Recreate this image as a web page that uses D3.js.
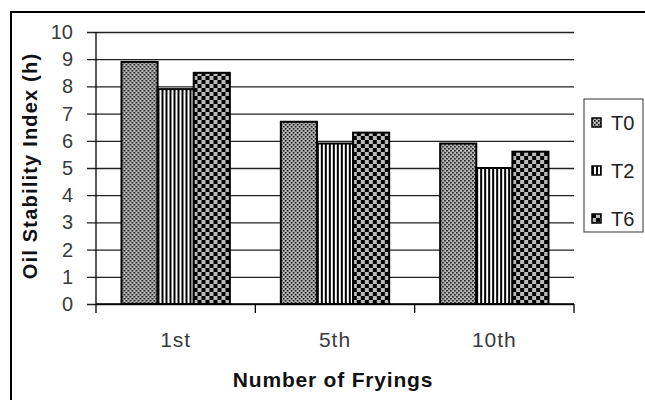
<!DOCTYPE html>
<html>
<head>
<meta charset="utf-8">
<script src="https://cdn.jsdelivr.net/npm/d3@7"></script>
<style>
  body { margin: 0; background: #fff; }
  svg { display: block; font-family: Arial, "Liberation Sans", sans-serif; }
</style>
</head>
<body>
<div id="chart-area"></div>
<script>
// data
const fryings = ["1st", "5th", "10th"]
const seriesNames = ["T0", "T2", "T6"]
const t0 = [8.9, 6.7, 5.9]
const t2 = [7.9, 5.9, 5.0]
const t6 = [8.5, 6.3, 5.6]
const yTicks = [0, 1, 2, 3, 4, 5, 6, 7, 8, 9, 10]

const values = [t0, t2, t6]

var cw = 645
var ch = 400
var m = {l: 96, t: 32, r: 71, b: 96}
var w = cw - m.l - m.r
var h = ch - m.t - m.b

var svg = d3.select("#chart-area").append("svg")
    .attr("width", cw)
    .attr("height", ch)

// fill patterns
var defs = svg.append("defs")

var p0 = defs.append("pattern").attr("id", "pat-T0")
    .attr("patternUnits", "userSpaceOnUse").attr("width", 4).attr("height", 4)
p0.append("rect").attr("width", 4).attr("height", 4).attr("fill", "#b8b8b8")
p0.append("rect").attr("x", 0).attr("y", 0).attr("width", 1.6).attr("height", 1.6).attr("fill", "#111")
p0.append("rect").attr("x", 2).attr("y", 2).attr("width", 1.6).attr("height", 1.6).attr("fill", "#111")

var p2 = defs.append("pattern").attr("id", "pat-T2")
    .attr("patternUnits", "userSpaceOnUse").attr("width", 4).attr("height", 4)
p2.append("rect").attr("width", 4).attr("height", 4).attr("fill", "#fff")
p2.append("rect").attr("width", 2).attr("height", 4).attr("fill", "#000")

var p6 = defs.append("pattern").attr("id", "pat-T6")
    .attr("patternUnits", "userSpaceOnUse").attr("width", 8).attr("height", 8)
p6.append("rect").attr("width", 8).attr("height", 8).attr("fill", "#bbb")
p6.append("rect").attr("width", 4).attr("height", 4).attr("fill", "#000")
p6.append("rect").attr("x", 4).attr("y", 4).attr("width", 4).attr("height", 4).attr("fill", "#000")

// outer frame
svg.append("rect")
    .attr("x", 11).attr("y", 12)
    .attr("width", 660).attr("height", 420)
    .attr("fill", "none")
    .attr("stroke", "#000")
    .attr("stroke-width", 2)

var g = svg.append("g").attr("transform", "translate(" + m.l + ", " + m.t + ")")

var x = d3.scaleBand()
    .domain(fryings)
    .range([0, w])
    .paddingInner(0.32)
    .paddingOuter(0.16)

var xs = d3.scaleBand()
    .domain(seriesNames)
    .range([0, x.bandwidth()])

var y = d3.scaleLinear()
    .domain([0, 10])
    .range([h, 0])

// gridlines + left ticks
var leftAxis = d3.axisLeft(y)
    .tickValues(yTicks)
    .tickSize(-w)
    .tickPadding(23)
    .tickFormat(d3.format("d"))

var yAxisGroup = g.append("g")
    .attr("class", "left axis")
    .call(leftAxis)

yAxisGroup.select(".domain").remove()
yAxisGroup.selectAll(".tick line")
    .attr("x1", -9)
    .attr("stroke", "#222")
    .attr("stroke-width", 1.3)
yAxisGroup.selectAll(".tick text")
    .attr("font-size", "20px")
    .attr("fill", "#3a3a3a")
    .attr("font-family", "Arial, 'Liberation Sans', sans-serif")

// y axis line
g.append("line")
    .attr("x1", 0).attr("x2", 0)
    .attr("y1", 0).attr("y2", h)
    .attr("stroke", "#000").attr("stroke-width", 1.3)

// bars
var groups = g.selectAll(".cat")
    .data(fryings)
    .enter()
    .append("g")
    .attr("class", "cat")
    .attr("transform", d => "translate(" + x(d) + ",0)")

groups.selectAll("rect")
    .data((d, i) => seriesNames.map((s, j) => ({s: s, v: values[j][i]})))
    .enter()
    .append("rect")
    .attr("x", d => xs(d.s))
    .attr("y", d => y(d.v))
    .attr("width", xs.bandwidth())
    .attr("height", d => h - y(d.v))
    .attr("fill", d => "url(#pat-" + d.s + ")")
    .attr("stroke", "#000")
    .attr("stroke-width", 2)

// x axis
var xTickPos = d3.range(fryings.length + 1).map(i => i * w / fryings.length)

g.append("line")
    .attr("x1", 0).attr("x2", w)
    .attr("y1", h).attr("y2", h)
    .attr("stroke", "#000").attr("stroke-width", 1.3)

g.selectAll(".xtick")
    .data(xTickPos)
    .enter()
    .append("line")
    .attr("class", "xtick")
    .attr("x1", d => d).attr("x2", d => d)
    .attr("y1", h).attr("y2", h + 9)
    .attr("stroke", "#000").attr("stroke-width", 1.3)

g.selectAll(".xlabel")
    .data(fryings)
    .enter()
    .append("text")
    .attr("class", "xlabel")
    .attr("x", d => x(d) + x.bandwidth() / 2)
    .attr("y", 347 - m.t)
    .attr("text-anchor", "middle")
    .attr("font-size", "21px")
    .attr("fill", "#3a3a3a")
    .attr("letter-spacing", "1px")
    .text(d => d)

// axis titles
svg.append("text")
    .attr("x", 333)
    .attr("y", 387)
    .attr("text-anchor", "middle")
    .attr("font-size", "21px")
    .attr("font-weight", "bold")
    .attr("letter-spacing", "0.8px")
    .attr("fill", "#111")
    .text("Number of Fryings")

svg.append("text")
    .attr("transform", "translate(37, 166) rotate(-90)")
    .attr("text-anchor", "middle")
    .attr("font-size", "20px")
    .attr("font-weight", "bold")
    .attr("letter-spacing", "1.2px")
    .attr("fill", "#111")
    .text("Oil Stability Index (h)")

// legend
svg.append("rect")
    .attr("x", 584).attr("y", 99)
    .attr("width", 59).attr("height", 133)
    .attr("fill", "#fff")
    .attr("stroke", "#333")
    .attr("stroke-width", 1)

const legend = svg.append("g")
    .attr("class", "legend")
    .attr("transform", "translate(592, 118)")

const legendItems = legend.selectAll(".legend-item")
    .data(seriesNames)
    .enter()
    .append("g")
    .attr("class", "legend-item")
    .attr("transform", (d, i) => "translate(0, " + (i * 48) + ")")

legendItems.append("rect")
    .attr("width", 9)
    .attr("height", 9)
    .attr("fill", d => "url(#pat-" + d + ")")
    .attr("stroke", "#000")
    .attr("stroke-width", 1.5)

legendItems.append("text")
    .attr("x", 19)
    .attr("y", 12)
    .attr("font-size", "20px")
    .attr("fill", "#222")
    .text(d => d)
</script>
</body>
</html>
